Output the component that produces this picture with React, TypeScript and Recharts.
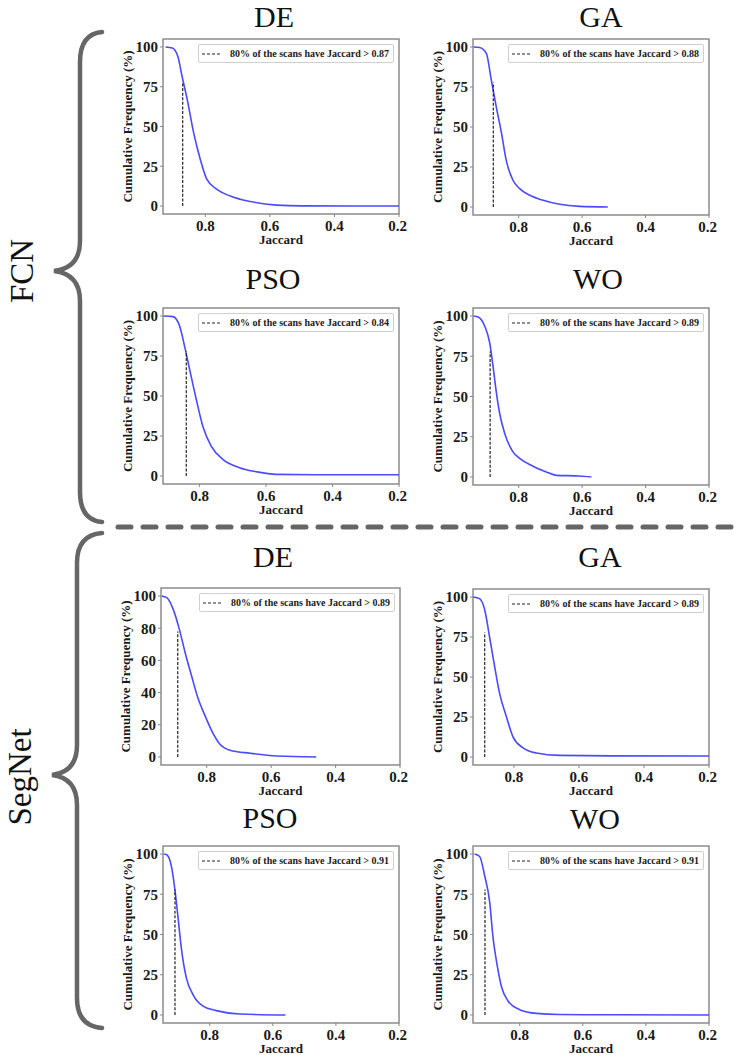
import React from "react";
import { LineChart, Line, XAxis, YAxis, ReferenceArea, Legend } from "recharts";

const serif = "'Liberation Serif', 'Times New Roman', serif";
const xTicks = [0.8, 0.6, 0.4, 0.2];
const yTicks25 = [0, 25, 50, 75, 100];
const yTicks20 = [0, 20, 40, 60, 80, 100];

// jaccard (descending) / cumulative frequency (%)
const fcnDeX = [0.923, 0.902, 0.885, 0.872, 0.856, 0.836, 0.815, 0.795, 0.764, 0.723, 0.66, 0.58, 0.5, 0.2];
const fcnDeY = [100, 99.4, 94, 81.6, 67, 46, 29, 16.7, 10.5, 6.3, 2.8, 0.6, 0.1, 0];

const fcnGaX = [0.942, 0.923, 0.902, 0.886, 0.87, 0.854, 0.839, 0.818, 0.797, 0.765, 0.723, 0.671, 0.608, 0.519];
const fcnGaY = [100, 99.7, 96, 79, 62, 46, 29, 16.7, 11.5, 7.3, 4.2, 1.7, 0.4, 0];

const fcnPsoX = [0.908, 0.88, 0.86, 0.845, 0.83, 0.81, 0.79, 0.765, 0.73, 0.68, 0.63, 0.57, 0.4, 0.2];
const fcnPsoY = [100, 99.6, 93.7, 81, 66.7, 48, 31, 18.7, 10.4, 5.2, 2.7, 1, 0.8, 0.8];

const fcnWoX = [0.942, 0.928, 0.907, 0.891, 0.881, 0.87, 0.86, 0.844, 0.818, 0.797, 0.755, 0.713, 0.681, 0.608, 0.571];
const fcnWoY = [100, 99.4, 93.7, 83, 69, 52, 39.6, 27, 15.6, 11.5, 6.7, 3.1, 1, 0.6, 0];

const segDeX = [0.94, 0.924, 0.904, 0.885, 0.867, 0.847, 0.826, 0.805, 0.784, 0.759, 0.728, 0.665, 0.582, 0.46];
const segDeY = [100, 99, 91.7, 79.3, 64.8, 50.3, 35.8, 25.5, 16.1, 7.9, 4.2, 2.3, 0.6, 0];

const segGaX = [0.925, 0.906, 0.89, 0.875, 0.859, 0.844, 0.823, 0.803, 0.772, 0.731, 0.66, 0.5, 0.2];
const segGaY = [100, 99, 92, 75, 56, 39.6, 25, 12.6, 5.7, 2.5, 1, 0.7, 0.6];

const segPsoX = [0.945, 0.935, 0.921, 0.911, 0.9, 0.89, 0.874, 0.853, 0.821, 0.779, 0.705, 0.56];
const segPsoY = [100, 99.4, 92, 79, 60, 41.7, 23, 12.7, 5.5, 2.7, 0.6, 0];

const segWoX = [0.943, 0.927, 0.911, 0.895, 0.885, 0.872, 0.858, 0.837, 0.8, 0.747, 0.673, 0.5, 0.2];
const segWoY = [100, 98.5, 86.5, 70, 49, 31.6, 17.7, 8.7, 3.3, 1.0, 0.3, 0.1, 0];

const thresholds = [0.87, 0.88, 0.84, 0.89, 0.89, 0.89, 0.91, 0.91];
const thresholdTop = 78;

const panels = [
  { title: "DE", tx: 274, ty: 27, left: 163, top: 39, w: 236, h: 175, xmax: 0.931, xs: fcnDeX, ys: fcnDeY, yTicks: yTicks25 },
  { title: "GA", tx: 601, ty: 27, left: 473, top: 39, w: 236, h: 176, xmax: 0.944, xs: fcnGaX, ys: fcnGaY, yTicks: yTicks25 },
  { title: "PSO", tx: 273, ty: 289, left: 163, top: 308, w: 236, h: 176, xmax: 0.91, xs: fcnPsoX, ys: fcnPsoY, yTicks: yTicks25 },
  { title: "WO", tx: 598, ty: 289, left: 473, top: 308, w: 236, h: 177, xmax: 0.944, xs: fcnWoX, ys: fcnWoY, yTicks: yTicks25 },
  { title: "DE", tx: 273, ty: 567, left: 161, top: 588, w: 239, h: 177, xmax: 0.942, xs: segDeX, ys: segDeY, yTicks: yTicks20 },
  { title: "GA", tx: 600, ty: 567, left: 473, top: 589, w: 236, h: 176, xmax: 0.926, xs: segGaX, ys: segGaY, yTicks: yTicks25 },
  { title: "PSO", tx: 270, ty: 828, left: 163, top: 846, w: 236, h: 177, xmax: 0.948, xs: segPsoX, ys: segPsoY, yTicks: yTicks25 },
  { title: "WO", tx: 595, ty: 829, left: 473, top: 846, w: 236, h: 177, xmax: 0.948, xs: segWoX, ys: segWoY, yTicks: yTicks25 },
];

const tickStyle = { fontFamily: serif, fontWeight: 700, fontSize: 15, fill: "#1a1a1a" };

function LegendBox({ payload }: any) {
  const items = (payload || []).filter((e: any) => e.type !== "none");
  return (
    <div>
      {items.map((e: any) => (
        <div
          key={e.value}
          style={{
            display: "flex",
            alignItems: "center",
            border: "1px solid #cfcfcf",
            borderRadius: 2,
            background: "#fff",
            padding: "3px 4px 3px 3px",
            fontFamily: serif,
            fontWeight: 700,
            fontSize: 10,
            lineHeight: "11px",
            color: "#1a1a1a",
            whiteSpace: "nowrap",
          }}
        >
          <svg width={20} height={6}>
            <line x1={0} y1={3} x2={20} y2={3} stroke="#222" strokeWidth={1.2} strokeDasharray="3 2" />
          </svg>
          <span style={{ marginLeft: 8 }}>{e.value}</span>
        </div>
      ))}
    </div>
  );
}

function Panel({ p, thr }: any) {
  const yW = 52;
  const mT = 8;
  const mR = 8;
  const xH = 38;
  const data = p.xs.map((x: number, i: number) => ({ j: x, f: p.ys[i] }));
  const line80 = [
    { j: thr, f: 0 },
    { j: thr, f: thresholdTop },
  ];
  return (
    <div style={{ position: "absolute", left: p.left - yW, top: p.top - mT }}>
      <LineChart width={yW + p.w + mR} height={mT + p.h + xH} margin={{ top: mT, right: mR, left: 0, bottom: 0 }}>
        <XAxis
          type="number"
          dataKey="j"
          domain={[0.2, p.xmax]}
          reversed
          allowDataOverflow
          ticks={xTicks}
          tickFormatter={(v: number) => v.toFixed(1)}
          height={xH}
          tick={tickStyle}
          tickSize={3}
          tickMargin={3}
          tickLine={{ stroke: "#888" }}
          axisLine={false}
          label={{
            value: "Jaccard",
            position: "insideBottom",
            offset: 8,
            style: { fontFamily: serif, fontWeight: 700, fontSize: 13, fill: "#1a1a1a" },
          }}
        />
        <YAxis
          type="number"
          domain={[-5, 105]}
          allowDataOverflow
          ticks={p.yTicks}
          width={yW}
          tick={tickStyle}
          tickSize={3}
          tickMargin={2}
          tickLine={{ stroke: "#888" }}
          axisLine={false}
          label={{
            value: "Cumulative Frequency (%)",
            angle: -90,
            position: "insideLeft",
            offset: 16,
            style: { textAnchor: "middle", fontFamily: serif, fontWeight: 700, fontSize: 13, fill: "#1a1a1a" },
          }}
        />
        <ReferenceArea x1={p.xmax} x2={0.2} y1={-5} y2={105} fill="none" stroke="#8c8c8c" strokeWidth={1.5} />
        <Line
          data={data}
          dataKey="f"
          type="monotone"
          stroke="#4a4aff"
          strokeWidth={1.6}
          dot={false}
          legendType="none"
          isAnimationActive={false}
        />
        <Line
          data={line80}
          dataKey="f"
          name={`80% of the scans have Jaccard > ${thr.toFixed(2)}`}
          type="linear"
          stroke="#222"
          strokeWidth={1.2}
          strokeDasharray="3 1.6"
          dot={false}
          legendType="line"
          isAnimationActive={false}
        />
        <Legend
          layout="vertical"
          align="center"
          verticalAlign="middle"
          content={<LegendBox />}
          wrapperStyle={{ top: mT + 5, right: mR + 5, left: "auto", width: "auto" }}
        />
      </LineChart>
    </div>
  );
}

function Brace({ top, mid, bottom, spineX, tipX, endX }: any) {
  const d = [
    `M ${endX} ${top}`,
    `Q ${spineX} ${top + 2} ${spineX} ${top + 30}`,
    `L ${spineX} ${mid - 30}`,
    `Q ${spineX} ${mid - 3} ${tipX} ${mid}`,
    `Q ${spineX} ${mid + 3} ${spineX} ${mid + 30}`,
    `L ${spineX} ${bottom - 30}`,
    `Q ${spineX} ${bottom - 2} ${endX} ${bottom}`,
  ].join(" ");
  return <path d={d} fill="none" stroke="#666" strokeWidth={4.5} strokeLinecap="round" />;
}

export default function App() {
  return (
    <div style={{ position: "absolute", left: 0, top: 0, width: 740, height: 1055, background: "#fff", overflow: "hidden" }}>
      <svg width={740} height={1055} style={{ position: "absolute", left: 0, top: 0 }}>
        <Brace top={32} mid={271} bottom={522} spineX={80} tipX={54} endX={102} />
        <Brace top={533} mid={775} bottom={1028} spineX={77} tipX={52} endX={102} />
        <line x1={118} y1={527} x2={740} y2={527} stroke="#666" strokeWidth={5} strokeDasharray="13 12" strokeLinecap="round" />
        <text x={22} y={271} transform="rotate(-90 22 271)" textAnchor="middle" dominantBaseline="central" fontFamily={serif} fontSize={33} fill="#111">
          FCN
        </text>
        <text x={20} y={777} transform="rotate(-90 20 777)" textAnchor="middle" dominantBaseline="central" fontFamily={serif} fontSize={33} fill="#111">
          SegNet
        </text>
        {panels.map((p, i) => (
          <text key={i} x={p.tx} y={p.ty} textAnchor="middle" fontFamily={serif} fontSize={30} fill="#111">
            {p.title}
          </text>
        ))}
      </svg>
      {panels.map((p, i) => (
        <Panel key={i} p={p} thr={thresholds[i]} />
      ))}
    </div>
  );
}
